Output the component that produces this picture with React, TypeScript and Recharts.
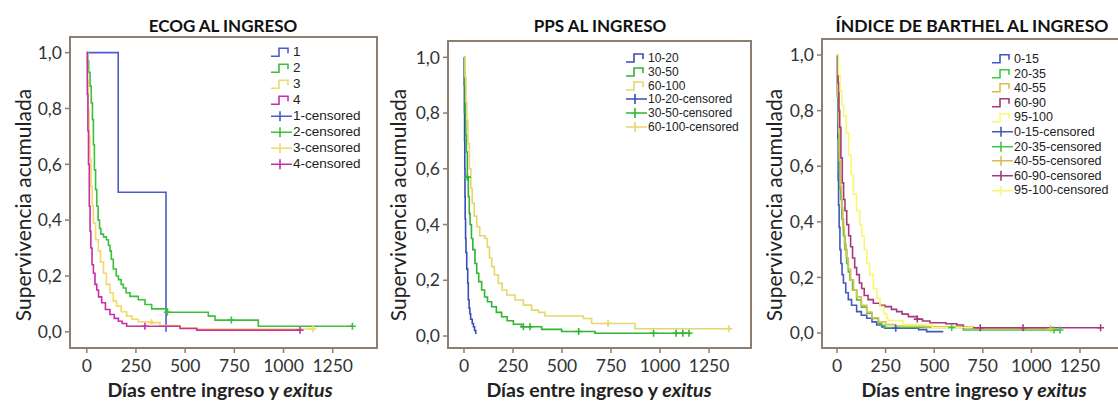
import React from 'react'
import {
  ComposedChart,
  Line,
  Scatter,
  XAxis,
  YAxis,
  ReferenceArea,
} from 'recharts'

type Pt = [number, number]

const X_TICKS = [0, 250, 500, 750, 1000, 1250]
const Y_TICKS = [0, 0.2, 0.4, 0.6, 0.8, 1]

// ECOG al ingreso
const ECOG_1: Pt[] = [[0, 1], [160, 0.5], [403, 0]]
const ECOG_2: Pt[] = [
  [0, 1], [5, 0.97], [10, 0.93], [17, 0.88], [23, 0.82], [29, 0.76], [34, 0.67], [39, 0.58],
  [45, 0.51], [51, 0.45], [58, 0.4], [65, 0.37], [72, 0.35], [85, 0.34], [100, 0.33], [110, 0.31],
  [118, 0.29], [125, 0.26], [135, 0.225], [150, 0.2], [161, 0.187], [175, 0.17], [186, 0.157],
  [200, 0.14], [220, 0.127], [262, 0.115], [296, 0.098], [330, 0.082], [410, 0.07], [618, 0.056],
  [652, 0.042], [872, 0.02], [1350, 0.02],
]
const ECOG_3: Pt[] = [
  [0, 1], [4, 0.9], [8, 0.8], [12, 0.7], [16, 0.62], [22, 0.52], [28, 0.45], [34, 0.39],
  [45, 0.33], [59, 0.29], [70, 0.25], [85, 0.21], [100, 0.17], [118, 0.14], [135, 0.11],
  [152, 0.092], [175, 0.072], [203, 0.056], [230, 0.045], [262, 0.036], [330, 0.033],
  [372, 0.022], [474, 0.014], [560, 0.01], [1150, 0.01],
]
const ECOG_4: Pt[] = [
  [0, 1], [3, 0.85], [6, 0.72], [9, 0.6], [13, 0.45], [17, 0.36], [21, 0.3], [27, 0.24],
  [34, 0.21], [42, 0.17], [51, 0.15], [60, 0.125], [76, 0.104], [95, 0.08], [118, 0.062],
  [140, 0.048], [161, 0.038], [180, 0.03], [203, 0.02], [450, 0.02], [474, 0.012], [559, 0.006],
  [1084, 0.006],
]
const ECOG_2_CENS: Pt[] = [[410, 0.07], [735, 0.042], [1350, 0.02]]
const ECOG_3_CENS: Pt[] = [[330, 0.033], [1150, 0.01]]
const ECOG_4_CENS: Pt[] = [[296, 0.02], [1084, 0.006]]

// PPS al ingreso
const PPS_10_20: Pt[] = [
  [0, 1], [1, 0.9], [2, 0.8], [3, 0.7], [4, 0.6], [5, 0.5], [6, 0.42], [8, 0.35], [10, 0.3],
  [14, 0.24], [19, 0.19], [22, 0.13], [26, 0.1], [30, 0.08], [34, 0.06], [42, 0.045],
  [48, 0.033], [54, 0.02], [60, 0.007],
]
const PPS_30_50: Pt[] = [
  [0, 1], [3, 0.9], [6, 0.8], [9, 0.72], [12, 0.66], [17, 0.57], [22, 0.5], [27, 0.44],
  [31, 0.4], [38, 0.35], [45, 0.31], [56, 0.26], [65, 0.225], [75, 0.195], [90, 0.165],
  [105, 0.14], [120, 0.123], [141, 0.105], [165, 0.085], [192, 0.069], [220, 0.055],
  [252, 0.042], [294, 0.033], [396, 0.024], [498, 0.016], [668, 0.01], [1148, 0.01],
]
const PPS_60_100: Pt[] = [
  [0, 1], [5, 0.93], [10, 0.84], [14, 0.775], [20, 0.69], [27, 0.6], [35, 0.53], [42, 0.476],
  [52, 0.43], [65, 0.392], [80, 0.36], [107, 0.35], [119, 0.32], [130, 0.28], [141, 0.249],
  [155, 0.22], [175, 0.189], [195, 0.165], [218, 0.147], [260, 0.129], [303, 0.111],
  [345, 0.093], [380, 0.085], [413, 0.072], [609, 0.063], [651, 0.045], [872, 0.026],
  [1352, 0.026],
]
const PPS_30_50_CENS: Pt[] = [
  [17, 0.57], [303, 0.033], [337, 0.033], [585, 0.016], [967, 0.01], [1082, 0.01],
  [1116, 0.01], [1148, 0.01],
]
const PPS_60_100_CENS: Pt[] = [[735, 0.045], [1352, 0.026]]

// Índice de Barthel al ingreso
const BAR_0_15: Pt[] = [
  [0, 1], [2, 0.85], [4, 0.7], [6, 0.55], [8, 0.46], [11, 0.38], [15, 0.3], [20, 0.25],
  [26, 0.21], [33, 0.18], [45, 0.145], [58, 0.12], [75, 0.1], [101, 0.077], [125, 0.064],
  [153, 0.053], [180, 0.04], [204, 0.029], [230, 0.022], [245, 0.017], [420, 0.012],
  [461, 0.005], [547, 0.005],
]
const BAR_20_35: Pt[] = [
  [0, 1], [3, 0.88], [6, 0.76], [9, 0.66], [12, 0.58], [15, 0.52], [19, 0.48], [25, 0.41],
  [33, 0.35], [41, 0.3], [50, 0.25], [58, 0.22], [67, 0.19], [80, 0.155], [101, 0.119],
  [125, 0.093], [153, 0.071], [180, 0.052], [213, 0.035], [230, 0.027], [247, 0.02],
  [600, 0.02], [650, 0.011], [1147, 0.011],
]
const BAR_40_55: Pt[] = [
  [0, 1], [4, 0.85], [8, 0.72], [12, 0.62], [17, 0.53], [23, 0.45], [30, 0.38], [38, 0.32],
  [47, 0.27], [58, 0.23], [70, 0.19], [85, 0.155], [101, 0.13], [125, 0.1], [153, 0.075],
  [180, 0.055], [213, 0.04], [250, 0.03], [300, 0.025], [450, 0.022], [700, 0.015],
  [1100, 0.015],
]
const BAR_60_90: Pt[] = [
  [0, 1], [5, 0.9], [10, 0.8], [14, 0.74], [20, 0.63], [27, 0.54], [34, 0.48], [41, 0.44],
  [50, 0.39], [60, 0.35], [70, 0.31], [80, 0.27], [91, 0.235], [101, 0.21], [115, 0.18],
  [127, 0.16], [140, 0.135], [160, 0.12], [187, 0.107], [220, 0.1], [247, 0.095], [280, 0.085],
  [307, 0.077], [335, 0.068], [367, 0.059], [413, 0.05], [440, 0.043], [478, 0.037],
  [560, 0.033], [616, 0.029], [650, 0.019], [1356, 0.019],
]
const BAR_95_100: Pt[] = [
  [0, 1], [8, 0.93], [16, 0.87], [25, 0.82], [35, 0.78], [48, 0.72], [60, 0.64], [72, 0.57],
  [84, 0.5], [100, 0.44], [117, 0.39], [127, 0.35], [140, 0.3], [153, 0.25], [168, 0.21],
  [187, 0.16], [205, 0.125], [221, 0.095], [240, 0.07], [255, 0.053], [262, 0.045],
  [330, 0.045], [340, 0.03], [480, 0.03], [490, 0.02], [700, 0.02],
]
const BAR_0_15_CENS: Pt[] = [[302, 0.017]]
const BAR_20_35_CENS: Pt[] = [[590, 0.02], [1116, 0.011], [1147, 0.011]]
const BAR_40_55_CENS: Pt[] = [[1100, 0.015]]
const BAR_60_90_CENS: Pt[] = [[413, 0.05], [737, 0.019], [957, 0.019], [1356, 0.019]]

const FRAME = '#8c7f72'
const TICK_FONT = 'Lato, "Open Sans", sans-serif'

type Series = { name: string; color: string; pts: Pt[]; cens?: Pt[] }

type PanelProps = {
  title: string
  titleSize: number
  chartLeft: number
  frame: { l: number; t: number; r: number; b: number }
  xDomain: [number, number]
  yDomain: [number, number]
  series: Series[]
  titleX: number
  xLabelX: number
  yLabelX: number
  legend: { iconX: number; y: number; step: number; font: number }
}

const toRows = (pts: Pt[]) => pts.map(([t, s]) => ({ t, s }))

function Cross(props: any) {
  const { cx, cy, fill } = props
  if (cx == null || cy == null) return null
  return (
    <path
      d={`M${cx - 3.5},${cy}H${cx + 3.5}M${cx},${cy - 3.5}V${cy + 3.5}`}
      stroke={fill}
      strokeWidth={1.6}
    />
  )
}

function StepIcon({ color }: { color: string }) {
  return (
    <svg width={23} height={12} style={{ display: 'block' }}>
      <path d="M1,10 H9 V2 H18 V7" fill="none" stroke={color} strokeWidth={1.6} />
    </svg>
  )
}

function CrossIcon({ color }: { color: string }) {
  return (
    <svg width={23} height={12} style={{ display: 'block' }}>
      <path d="M1,6 H22 M10,1 V11" fill="none" stroke={color} strokeWidth={1.6} />
    </svg>
  )
}

function Panel(p: PanelProps) {
  const { frame, chartLeft } = p
  const width = frame.r - chartLeft + 1
  const legendRows = [
    ...p.series.map((s) => ({ label: s.name, color: s.color, kind: 'step' })),
    ...p.series.map((s) => ({ label: `${s.name}-censored`, color: s.color, kind: 'cross' })),
  ]
  return (
    <>
      <div style={{ position: 'absolute', left: chartLeft, top: 0 }}>
        <ComposedChart
          width={width}
          height={403}
          margin={{ top: frame.t, right: 1, bottom: 0, left: 0 }}
        >
          <XAxis
            dataKey="t"
            type="number"
            domain={p.xDomain}
            allowDataOverflow
            ticks={X_TICKS}
            axisLine={false}
            tickLine={{ stroke: FRAME, strokeWidth: 1.5 }}
            tickSize={5}
            tickMargin={7}
            height={403 - frame.b}
            tick={{ fill: '#333', fontSize: 17.5, fontFamily: TICK_FONT }}
          />
          <YAxis
            type="number"
            domain={p.yDomain}
            allowDataOverflow
            ticks={Y_TICKS}
            axisLine={false}
            tickLine={{ stroke: FRAME, strokeWidth: 1.5 }}
            tickSize={5}
            tickMargin={3}
            width={frame.l - chartLeft}
            tickFormatter={(v: number) => v.toFixed(1).replace('.', ',')}
            tick={{ fill: '#333', fontSize: 17.5, fontFamily: TICK_FONT }}
          />
          <ReferenceArea
            x1={p.xDomain[0]}
            x2={p.xDomain[1]}
            y1={p.yDomain[0]}
            y2={p.yDomain[1]}
            fill="#fff"
            fillOpacity={0}
            stroke={FRAME}
            strokeWidth={2}
            ifOverflow="visible"
          />
          {p.series.map((s) => (
            <Line
              key={s.name}
              data={toRows(s.pts)}
              dataKey="s"
              type="stepAfter"
              stroke={s.color}
              strokeWidth={1.6}
              dot={false}
              isAnimationActive={false}
            />
          ))}
          {p.series
            .filter((s) => s.cens && s.cens.length)
            .map((s) => (
              <Scatter
                key={`${s.name}-c`}
                data={toRows(s.cens!)}
                dataKey="s"
                fill={s.color}
                shape={<Cross />}
                isAnimationActive={false}
              />
            ))}
        </ComposedChart>
      </div>
      <div
        style={{
          position: 'absolute',
          left: p.titleX,
          top: 25,
          transform: 'translate(-50%, -50%)',
          whiteSpace: 'nowrap',
          fontFamily: TICK_FONT,
          fontWeight: 700,
          fontSize: p.titleSize,
          color: '#111',
        }}
      >
        {p.title}
      </div>
      <div
        style={{
          position: 'absolute',
          left: p.yLabelX,
          top: 205,
          transform: 'translate(-50%, -50%) rotate(-90deg)',
          whiteSpace: 'nowrap',
          fontFamily: TICK_FONT,
          fontSize: 21,
          color: '#222',
        }}
      >
        Supervivencia acumulada
      </div>
      <div
        style={{
          position: 'absolute',
          left: p.xLabelX,
          top: 389,
          transform: 'translate(-50%, -50%)',
          whiteSpace: 'nowrap',
          fontFamily: TICK_FONT,
          fontWeight: 700,
          fontSize: 19.5,
          color: '#222',
        }}
      >
        Días entre ingreso y <i>exitus</i>
      </div>
      {legendRows.map((r, i) => (
        <div
          key={r.label}
          style={{
            position: 'absolute',
            left: p.legend.iconX,
            top: p.legend.y + i * p.legend.step,
            transform: 'translateY(-50%)',
            display: 'flex',
            alignItems: 'center',
            whiteSpace: 'nowrap',
            fontFamily: '"Liberation Sans", Arial, sans-serif',
            fontSize: p.legend.font,
            color: '#222',
            lineHeight: 1,
          }}
        >
          {r.kind === 'step' ? <StepIcon color={r.color} /> : <CrossIcon color={r.color} />}
          <span>{r.label}</span>
        </div>
      ))}
    </>
  )
}

export default function App() {
  return (
    <div
      style={{
        position: 'fixed',
        left: 0,
        top: 0,
        width: 1118,
        height: 403,
        overflow: 'hidden',
        background: '#fff',
      }}
    >
      <Panel
        title="ECOG AL INGRESO"
        titleSize={17}
        chartLeft={0}
        frame={{ l: 70, t: 37, r: 377, b: 348 }}
        xDomain={[-85, 1475]}
        yDomain={[-0.058, 1.056]}
        titleX={223}
        xLabelX={220}
        yLabelX={22}
        legend={{ iconX: 270, y: 52, step: 16, font: 13.5 }}
        series={[
          { name: '1', color: '#4a5cc8', pts: ECOG_1 },
          { name: '2', color: '#3cbf3c', pts: ECOG_2, cens: ECOG_2_CENS },
          { name: '3', color: '#f0da68', pts: ECOG_3, cens: ECOG_3_CENS },
          { name: '4', color: '#c92fa4', pts: ECOG_4, cens: ECOG_4_CENS },
        ]}
      />
      <Panel
        title="PPS AL INGRESO"
        titleSize={17}
        chartLeft={380}
        frame={{ l: 448, t: 41, r: 751, b: 348 }}
        xDomain={[-81.6, 1464]}
        yDomain={[-0.043, 1.0585]}
        titleX={600}
        xLabelX={599}
        yLabelX={397}
        legend={{ iconX: 625, y: 58, step: 13.8, font: 12 }}
        series={[
          { name: '10-20', color: '#3a4cb8', pts: PPS_10_20 },
          { name: '30-50', color: '#2fb52f', pts: PPS_30_50, cens: PPS_30_50_CENS },
          { name: '60-100', color: '#e6d66e', pts: PPS_60_100, cens: PPS_60_100_CENS },
        ]}
      />
      <Panel
        title="ÍNDICE DE BARTHEL AL INGRESO"
        titleSize={17.5}
        chartLeft={760}
        frame={{ l: 822, t: 39, r: 1128, b: 348 }}
        xDomain={[-77.2, 1497]}
        yDomain={[-0.054, 1.0576]}
        titleX={972}
        xLabelX={974}
        yLabelX={773}
        legend={{ iconX: 991, y: 59, step: 14.6, font: 12.5 }}
        series={[
          { name: '0-15', color: '#4058c0', pts: BAR_0_15, cens: BAR_0_15_CENS },
          { name: '20-35', color: '#40c840', pts: BAR_20_35, cens: BAR_20_35_CENS },
          { name: '40-55', color: '#d9bd4f', pts: BAR_40_55, cens: BAR_40_55_CENS },
          { name: '60-90', color: '#a8387e', pts: BAR_60_90, cens: BAR_60_90_CENS },
          { name: '95-100', color: '#f8f870', pts: BAR_95_100 },
        ]}
      />
    </div>
  )
}
